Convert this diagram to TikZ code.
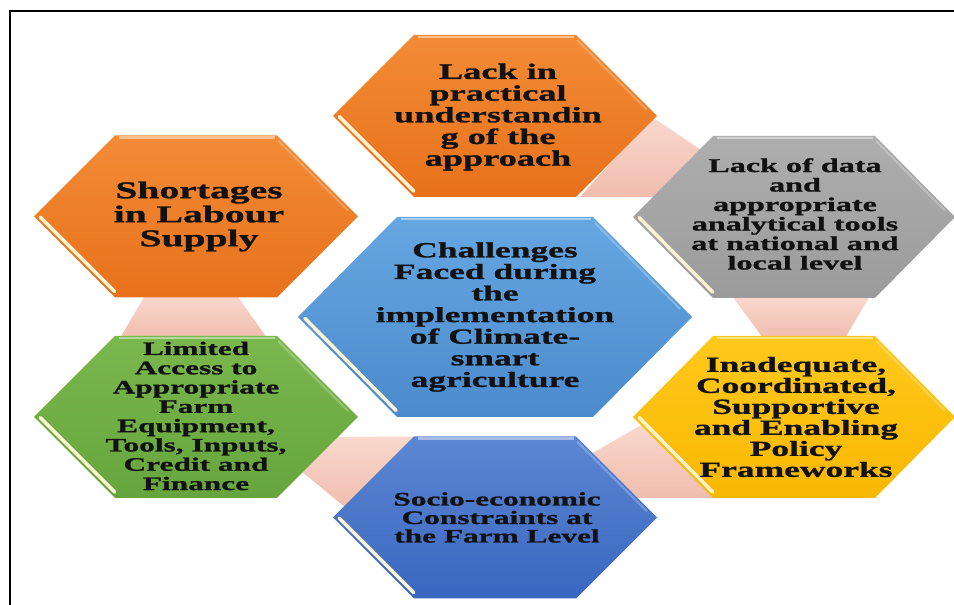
\documentclass[tikz,border=0pt]{standalone}
\usepackage{fontspec}
\newfontfamily\hexfont[FakeStretch=1.65, BoldFeatures={FakeBold=1.2}]{Liberation Serif}
\usetikzlibrary{calc}

\definecolor{orangeTop}{HTML}{F38B36}
\definecolor{orangeBot}{HTML}{E8711B}
\definecolor{grayTop}{HTML}{AEAEAE}
\definecolor{grayBot}{HTML}{9B9B9B}
\definecolor{skyTop}{HTML}{66A6E1}
\definecolor{skyBot}{HTML}{4B8BCD}
\definecolor{greenTop}{HTML}{7AB84E}
\definecolor{greenBot}{HTML}{66A43D}
\definecolor{goldTop}{HTML}{FFC81C}
\definecolor{goldBot}{HTML}{F9B800}
\definecolor{navyTop}{HTML}{5C87D3}
\definecolor{navyBot}{HTML}{3A66C0}
\definecolor{bandLight}{HTML}{F9D8CD}
\definecolor{bandDark}{HTML}{F0BDAE}
\definecolor{bevelCream}{HTML}{FFF4D2}
\definecolor{inkDark}{HTML}{111111}

% hexagon with flat top and bottom: #1 centre, #2 half width, #3 half top edge,
% #4 half height, #5 top colour, #6 bottom colour
\newcommand{\drawhex}[6]{%
  \shade[top color=#5, bottom color=#6]
    ($(#1)+(-#2,0)$) -- ($(#1)+(-#3,#4)$) -- ($(#1)+(#3,#4)$) --
    ($(#1)+(#2,0)$) -- ($(#1)+(#3,-#4)$) -- ($(#1)+(-#3,-#4)$) -- cycle;
  \coordinate (hxL) at ($(#1)+(-#2,0)$);
  \coordinate (hxBL) at ($(#1)+(-#3,-#4)$);
  \coordinate (hxTR) at ($(#1)+(#3,#4)$);
  \coordinate (hxR) at ($(#1)+(#2,0)$);
  % soft light along the top edge and the upper right edge
  \draw[white, opacity=.45, line width=2.5pt]
    ($(#1)+(-#3+4,#4-2)$) -- ($(#1)+(#3-2,#4-2)$);
  \draw[white, opacity=.25, line width=2pt]
    ($(hxTR)!.04!(hxR)+(-2,-2)$) -- ($(hxTR)!.9!(hxR)+(-2,-2)$);
  % bevel on the lower left edge
  \draw[bevelCream, line width=3.5pt, line cap=round]
    ($(hxL)!.04!(hxBL)+(3,2.6)$) -- ($(hxL)!.96!(hxBL)+(3,2.6)$);
}

\begin{document}
\begin{tikzpicture}[x=1pt, y=1pt,
  band/.style={top color=bandLight, bottom color=bandDark},
  hexlabel/.style={align=center, text=inkDark, inner sep=0pt},
  frameline/.style={line width=2.2pt, black}]

\useasboundingbox (0,0) rectangle (954,605);
\fill[white] (0,0) rectangle (954,605);

% outer frame
\draw[frameline] (10,0) -- (10,594) -- (954,594);

% hexagon centres
\coordinate (h1) at (196,388.5);
\coordinate (h2) at (495,489);
\coordinate (h3) at (794,388);
\coordinate (hc) at (495,288);
\coordinate (h5) at (196,188);
\coordinate (h6) at (794,188);
\coordinate (h7) at (495,87.5);

% pale bands joining neighbouring hexagons
\shade[band] ($(h1)+(-51,-79)$) -- ($(h1)+(41,-79)$) -- ($(h5)+(71,79)$) -- ($(h5)+(-76,79)$) -- cycle;
\shade[band] ($(h3)+(-62,-79)$) -- ($(h3)+(76,-79)$) -- ($(h6)+(51,79)$) -- ($(h6)+(-31,79)$) -- cycle;
\shade[band] ($(h2)+(157,-1)$) -- ($(h3)+(-90,65)$) -- ($(h3)+(-137,20)$) -- ($(h2)+(85,-81)$) -- cycle;
\shade[band] ($(h7)+(96,63.5)$) -- ($(h6)+(-151,-7)$) -- ($(h6)+(-77,-81)$) -- ($(h7)+(140,19.5)$) -- cycle;
\shade[band] ($(h5)+(140,-20)$) -- ($(h7)+(-76,81)$) -- ($(h7)+(-149,9.5)$) -- ($(h5)+(105,-54)$) -- cycle;

% hexagons
\drawhex{h1}{162}{81}{81}{orangeTop}{orangeBot}
\drawhex{h2}{162}{81}{81}{orangeTop}{orangeBot}
\drawhex{h3}{161}{81}{81}{grayTop}{grayBot}
\drawhex{hc}{197}{98}{100}{skyTop}{skyBot}
\drawhex{h5}{162}{81}{81}{greenTop}{greenBot}
\drawhex{h6}{161}{81}{81}{goldTop}{goldBot}
\drawhex{h7}{162}{81}{81}{navyTop}{navyBot}

% labels
\node[hexlabel, font=\hexfont\bfseries\fontsize{24}{24}\selectfont] (t1) at ($(h1)+(3,0)$)
  {Shortages\\in Labour\\Supply};
\node[hexlabel, font=\hexfont\bfseries\fontsize{22}{21.7}\selectfont] (t2) at ($(h2)+(3,-1)$)
  {Lack in\\practical\\understandin\\g of the\\approach};
\node[hexlabel, font=\hexfont\bfseries\fontsize{19.5}{19.5}\selectfont] (t3) at ($(h3)+(1,3)$)
  {Lack of data\\and\\appropriate\\analytical tools\\at national and\\local level};
\node[hexlabel, font=\hexfont\bfseries\fontsize{21.5}{21.6}\selectfont] (tc) at ($(hc)+(0,0)$)
  {Challenges\\Faced during\\the\\implementation\\of Climate-\\smart\\agriculture};
\node[hexlabel, font=\hexfont\bfseries\fontsize{19}{19.3}\selectfont] (t5) at ($(h5)+(0,1)$)
  {Limited\\Access to\\Appropriate\\Farm\\Equipment,\\Tools, Inputs,\\Credit and\\Finance};
\node[hexlabel, font=\hexfont\bfseries\fontsize{21.5}{21}\selectfont] (t6) at ($(h6)+(2,0)$)
  {Inadequate,\\Coordinated,\\Supportive\\and Enabling\\Policy\\Frameworks};
\node[hexlabel, font=\hexfont\bfseries\fontsize{19}{18.5}\selectfont] (t7) at ($(h7)+(2,0)$)
  {Socio-economic\\Constraints at\\the Farm Level};

\end{tikzpicture}
\end{document}
